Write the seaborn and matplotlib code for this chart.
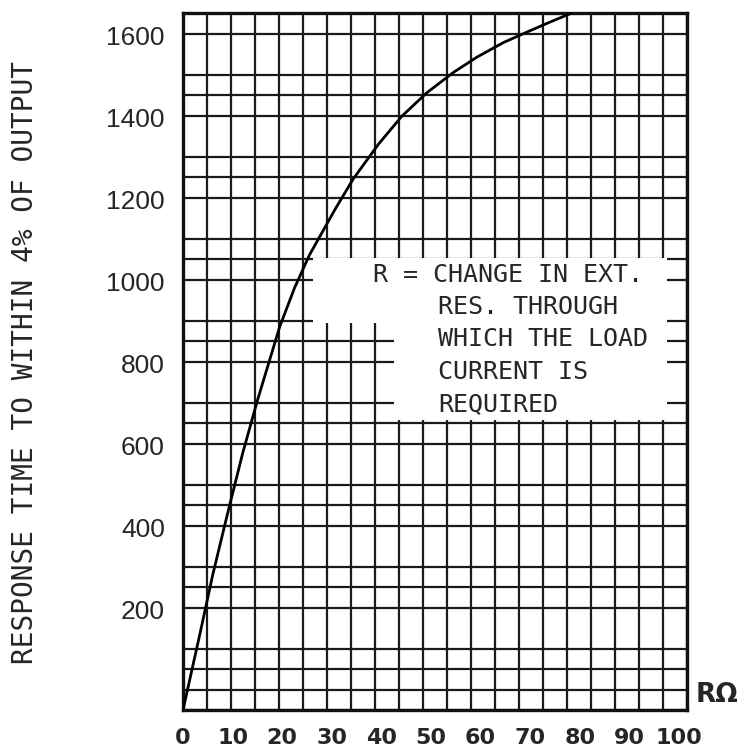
import numpy as np
import matplotlib
matplotlib.use("Agg")
import matplotlib.pyplot as plt
from matplotlib.patches import Rectangle
from matplotlib.transforms import ScaledTranslation
import seaborn as sns

# curve: R (ohm) vs response time
r_ohm = [0, 3.4, 6, 9, 12, 15, 19.5, 22.5, 25.5, 30.6, 34.3,
         39.4, 44.1, 49.1, 54.5, 59.2, 64.6, 70, 74, 78.4]
resp_time = [0, 185, 330, 480, 625, 755, 935, 1030, 1110, 1220, 1295,
             1380, 1448, 1505, 1555, 1592, 1628, 1657, 1678, 1700]

x_ticks = [0, 10, 20, 30, 40, 50, 60, 70, 80, 90, 100]
x_labels = ["0", "10", "20", "30", "40", "50", "60", "70", "80", "90", "100"]
y_ticks = [200, 400, 600, 800, 1000, 1200, 1400, 1600]

note_first = "R = CHANGE IN EXT."
note_rest = ["RES. THROUGH", "WHICH THE LOAD", "CURRENT IS", "REQUIRED"]

sns.set_style("white")
plt.rcParams["font.family"] = ["DejaVu Sans"]

fig = plt.figure(figsize=(7.48, 7.48), dpi=100)
ax = fig.add_axes([183 / 748, 38 / 748, 504 / 748, 697 / 748])

x_max = 101.6
ax.set_xlim(0, x_max)
ax.set_ylim(0, 1700)

# graph-paper grid
ax.set_xticks(np.linspace(0, x_max, 22), minor=True)
ax.set_yticks(np.arange(0, 1701, 50), minor=True)
ax.grid(False)
ax.grid(which="minor", color="#1a1a1a", linewidth=1.6)
ax.set_axisbelow(True)

# white label box over the paper
ax.add_patch(Rectangle((26.2, 944), 97.6 - 26.2, 1102 - 944,
                       facecolor="white", edgecolor="none", zorder=1))
ax.add_patch(Rectangle((42.5, 707), 97.6 - 42.5, 944 - 707,
                       facecolor="white", edgecolor="none", zorder=1))

sns.lineplot(x=r_ohm, y=resp_time, color="black", linewidth=2.0, sort=False,
             ax=ax, zorder=3)

for s in ax.spines.values():
    s.set_linewidth(2.4)
    s.set_color("#111111")

ax.set_xticks(x_ticks)
ax.set_xticklabels(x_labels, fontsize=16, fontweight="bold")
ax.set_yticks(y_ticks)
ax.set_yticklabels([str(v) for v in y_ticks], fontsize=19,
                   family="Liberation Sans")
ax.tick_params(axis="x", which="major", length=0, pad=13)
ax.tick_params(axis="y", which="major", length=10, width=2, direction="out",
               pad=3, color="#111111")
ax.tick_params(which="minor", length=0)
for lab in ax.get_yticklabels():
    lab.set_va("bottom")
    lab.set_transform(lab.get_transform() +
                      ScaledTranslation(0, 3 / 72, fig.dpi_scale_trans))

ax.set_xlabel("")
ax.set_ylabel("")

mono = "DejaVu Sans Mono"
ax.text(38.3, 1061, note_first, family=mono, fontsize=18, va="center",
        ha="left", zorder=4)
for i, line in enumerate(note_rest):
    ax.text(51.4, 983 - i * 79, line, family=mono, fontsize=18,
            va="center", ha="left", zorder=4)

fig.text(25 / 748, 1 - 363 / 748, "RESPONSE TIME TO WITHIN 4% OF OUTPUT",
         family=mono, fontsize=20, rotation=90, va="center", ha="center")
ax.text(1.018, 0.003, "R\u03a9", transform=ax.transAxes, fontsize=19,
        fontweight="bold", va="bottom", ha="left")

fig.savefig("out.png", dpi=100)
